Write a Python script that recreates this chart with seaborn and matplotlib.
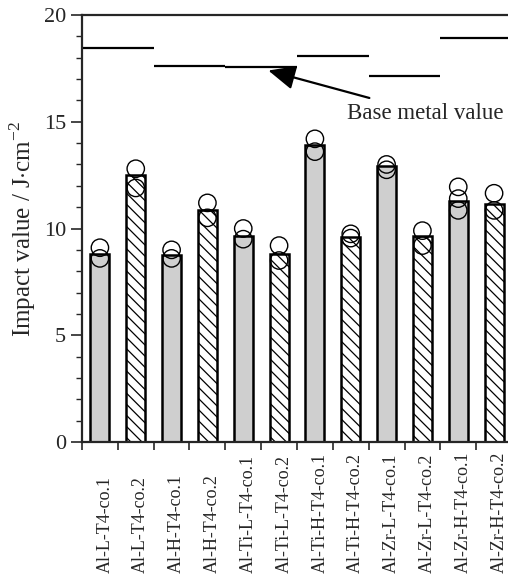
import numpy as np
import pandas as pd
import matplotlib
matplotlib.use("Agg")
import matplotlib.pyplot as plt
import matplotlib.transforms as mtransforms
import seaborn as sns

categories = ["Al-L-T4-co.1", "Al-L-T4-co.2", "Al-H-T4-co.1", "Al-H-T4-co.2",
              "Al-Ti-L-T4-co.1", "Al-Ti-L-T4-co.2", "Al-Ti-H-T4-co.1", "Al-Ti-H-T4-co.2",
              "Al-Zr-L-T4-co.1", "Al-Zr-L-T4-co.2", "Al-Zr-H-T4-co.1", "Al-Zr-H-T4-co.2"]
mean_values = [8.8, 12.5, 8.75, 10.85, 9.65, 8.8, 13.9, 9.6, 12.95, 9.65, 11.3, 11.15]
point_values = [
    [9.1, 8.6],
    [12.8, 11.9],
    [9.0, 8.6],
    [11.2, 10.5],
    [10.0, 9.5],
    [9.2, 8.5],
    [14.2, 13.6],
    [9.75, 9.55],
    [13.0, 12.75],
    [9.9, 9.2],
    [11.95, 11.4, 10.85],
    [11.65, 10.85],
]
base_metal_values = [18.45, 17.6, 17.55, 18.1, 17.15, 18.9]
yticks = [0, 5, 10, 15, 20]

sns.set_style("ticks")
plt.rcParams["font.family"] = ["Liberation Serif", "DejaVu Serif"]
plt.rcParams["mathtext.fontset"] = "custom"
plt.rcParams["mathtext.rm"] = "Liberation Serif"
plt.rcParams["hatch.linewidth"] = 0.9

bar_df = pd.DataFrame({"sample": categories, "value": mean_values})
pt_df = pd.DataFrame([(c, v) for c, vs in zip(categories, point_values) for v in vs],
                     columns=["sample", "value"])

fig = plt.figure(figsize=(5.08, 5.77), dpi=100)
ax = fig.add_axes([82 / 508, 1 - 442 / 577, 430 / 508, 427 / 577])

sns.barplot(data=bar_df, x="sample", y="value", order=categories, ax=ax,
            width=0.53, color="#cfcfcf", edgecolor="black", linewidth=1.8,
            errorbar=None, saturation=1)
for i, p in enumerate(ax.patches):
    if i % 2 == 1:
        p.set_facecolor("white")
        p.set_hatch("\\\\\\")

sns.stripplot(data=pt_df, x="sample", y="value", order=categories, ax=ax,
              jitter=False, marker="o", size=12.5, color="none",
              edgecolor="black", linewidth=1.0, zorder=5)
for c in ax.collections:
    c.set_facecolor("none")
    c.set_edgecolor("black")

for k, bv in enumerate(base_metal_values):
    ax.hlines(bv, 2 * k - 0.5, 2 * k + 1.5, color="black", linewidth=1.6)

ax.annotate("Base metal value", xy=(4.7, 17.4), xytext=(6.9, 15.4),
            fontsize=16.5, ha="left", va="center",
            arrowprops=dict(arrowstyle="-|>,head_length=1.0,head_width=0.45",
                            color="black", lw=1.6, shrinkA=4, shrinkB=0))

ax.set_xlim(-0.5, 11.5)
ax.set_ylim(0, 20)
ax.set_yticks(yticks)
ax.set_yticklabels([str(t) for t in yticks], fontsize=16)
ax.yaxis.set_minor_locator(matplotlib.ticker.MultipleLocator(1))
ax.set_xticks(np.arange(len(categories)))
ax.set_xticks(np.arange(len(categories) + 1) - 0.5, minor=True)
ax.tick_params(axis="x", which="major", length=0, pad=94)
ax.tick_params(axis="x", which="minor", length=6, width=1.2, direction="out")
ax.tick_params(axis="y", which="major", length=8, width=1.2, direction="out")
ax.tick_params(axis="y", which="minor", length=4, width=1.0, direction="out")
ax.set_xticklabels(categories, rotation=90, fontsize=13)
shift = mtransforms.ScaledTranslation(0.05, 0, fig.dpi_scale_trans)
for lbl in ax.get_xticklabels():
    lbl.set_rotation_mode("anchor")
    lbl.set_ha("left")
    lbl.set_va("center")
    lbl.set_transform(lbl.get_transform() + shift)
ax.set_xlabel("")
ax.set_ylabel(r"Impact value / J$\cdot$cm$^{-2}$", fontsize=18, labelpad=4)
for s in ax.spines.values():
    s.set_linewidth(1.6)

fig.savefig("out.png", dpi=100)
